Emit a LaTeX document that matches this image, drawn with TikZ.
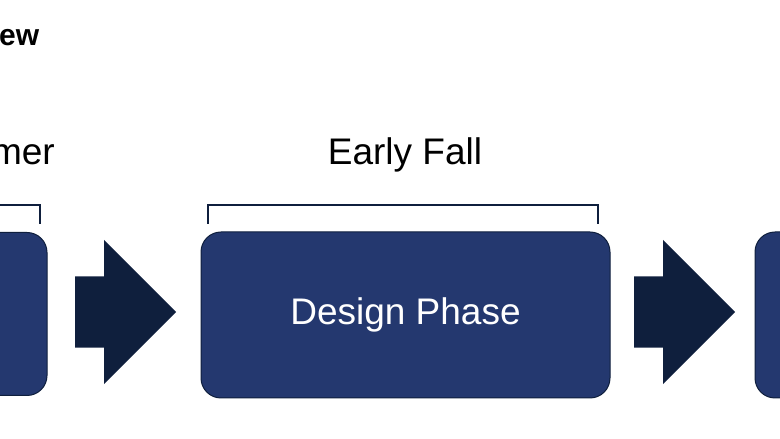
\documentclass[tikz,border=0pt]{standalone}
\usepackage{fontspec}
\setmainfont{Liberation Sans}
\usetikzlibrary{shapes.arrows}
\definecolor{boxblue}{HTML}{24386F}
\definecolor{navy}{HTML}{0F1F3D}
\tikzset{
  phase/.style={draw=navy, line width=1pt, fill=boxblue, rounded corners=20pt,
    text=white, font=\fontsize{37}{40}\selectfont},
  step arrow/.style={single arrow, fill=navy, minimum height=101pt,
    inner xsep=0pt, inner ysep=35.5pt, single arrow head extend=36.5pt,
    single arrow head indent=0pt, shape border rotate=0, anchor=west},
  season/.style={font=\fontsize{37}{40}\selectfont},
  bracket/.style={draw=navy, line width=1.6pt}
}
\begin{document}
\begin{tikzpicture}[x=1pt,y=1pt]
	\useasboundingbox (0,0) rectangle (780,439);
	\clip (0,0) rectangle (780,439);
	% title and season labels
	\node[anchor=west, font=\bfseries\fontsize{30}{32}\selectfont, inner sep=0pt] (title) at (-1,401) {ew};
	\node[season, anchor=east, inner sep=0pt] (summer) at (55,284) {mer};
	\node[season] (fall) at (405,284) {Early Fall};
	% brackets
	\draw[bracket] (-10,234) -- (40,234) -- (40,215);
	\draw[bracket] (208,215) -- (208,234) -- (598,234) -- (598,215);
	% phases
	\node[phase, minimum width=100pt, minimum height=163pt] (left) at (-3,125) {};
	\node[phase, minimum width=409pt, minimum height=166pt] (design) at (405.5,124) {Design Phase};
	\node[phase, minimum width=100pt, minimum height=166pt] (right) at (805,124) {};
	% arrows
	\node[step arrow] (a1) at (75,127) {};
	\node[step arrow] (a2) at (634,127) {};
\end{tikzpicture}
\end{document}
